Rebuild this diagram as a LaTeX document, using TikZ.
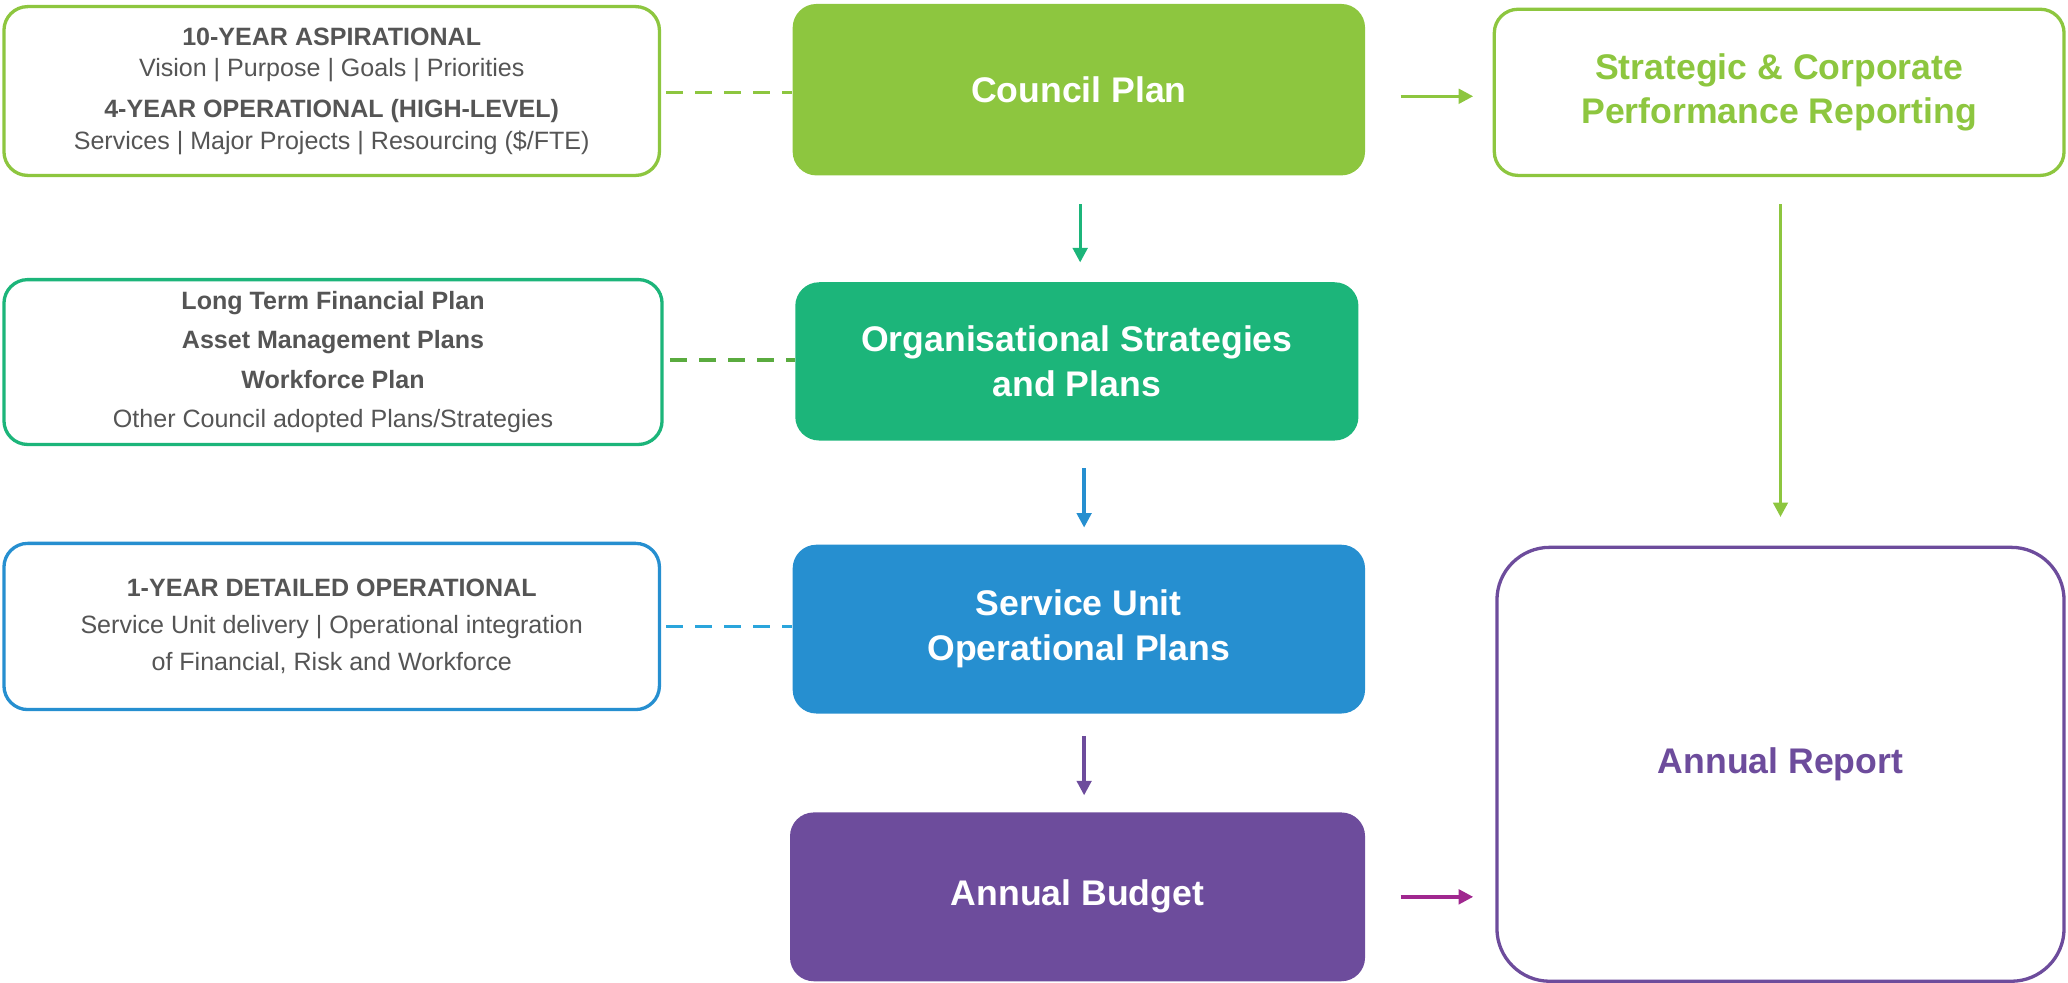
\documentclass[tikz,border=0pt]{standalone}
\usepackage{fontspec}
\setmainfont{Liberation Sans}
\usetikzlibrary{arrows.meta}
\definecolor{cg}{HTML}{8DC63F}
\definecolor{ct}{HTML}{1CB57A}
\definecolor{cb}{HTML}{268FD0}
\definecolor{cp}{HTML}{6D4C9C}
\definecolor{cmag}{HTML}{A0278F}
\definecolor{cdg}{HTML}{5AAB3F}
\definecolor{clb}{HTML}{2AA5DC}
\definecolor{tx}{HTML}{555555}
\begin{document}
\begin{tikzpicture}[x=1pt,y=-1pt,
 side/.style={draw,line width=2.5pt,rounded corners=18pt,fill=white,text=tx,font=\fontsize{19}{27}\selectfont,align=center,inner sep=0pt},
 main/.style={rounded corners=18pt,text=white,font=\fontsize{27}{34}\selectfont\bfseries,align=center,inner sep=0pt},
 dsh/.style={line width=2.5pt,dash pattern=on 13pt off 9pt},
 arr/.style={line width=2.5pt,-{Triangle[length=11pt,width=11pt]}}]
\useasboundingbox (0,0) rectangle (1568,745);
% left boxes
\node[side,draw=cg,minimum width=497pt,minimum height=128pt] (l1) at (251.5,69) {};
\node[text=tx,font=\fontsize{19}{27}\selectfont,align=center] at (251.5,69) {\textbf{10-YEAR ASPIRATIONAL}\\[-3pt] Vision | Purpose | Goals | Priorities\\[4pt] \textbf{4-YEAR OPERATIONAL (HIGH-LEVEL)}\\[-3pt] Services | Major Projects | Resourcing (\$/FTE)};
\node[side,draw=ct,minimum width=499pt,minimum height=125pt] (l2) at (252.5,274.5) {};
\node[text=tx,font=\fontsize{19}{30}\selectfont,align=center] at (252.5,274.5) {\textbf{Long Term Financial Plan}\\ \textbf{Asset Management Plans}\\ \textbf{Workforce Plan}\\ Other Council adopted Plans/Strategies};
\node[side,draw=cb,minimum width=497pt,minimum height=126pt] (l3) at (251.5,475) {};
\node[text=tx,font=\fontsize{19}{28}\selectfont,align=center] at (251.5,475) {\textbf{1-YEAR DETAILED OPERATIONAL}\\ Service Unit delivery | Operational integration\\ of Financial, Risk and Workforce};
% main boxes
\node[main,fill=cg,minimum width=434pt,minimum height=130pt] (cp) at (818,68) {Council Plan};
\node[main,fill=ct,minimum width=427pt,minimum height=120pt] (os) at (816.5,274) {Organisational Strategies\\and Plans};
\node[main,fill=cb,minimum width=434pt,minimum height=128pt] (su) at (818,477) {Service Unit\\Operational Plans};
\node[main,fill=cp,minimum width=436pt,minimum height=128pt] (ab) at (817,680) {Annual Budget};
\node[main,draw=cg,line width=2.5pt,fill=white,text=cg,minimum width=432pt,minimum height=126pt] (sr) at (1349,70) {Strategic \& Corporate\\Performance Reporting};
\node[main,draw=cp,line width=2.5pt,fill=white,text=cp,minimum width=430pt,minimum height=329pt,rounded corners=40pt] (ar) at (1350,579.5) {Annual Report};
% dashed
\draw[dsh,cg] (505,70) -- (cp.west|-0,70);
\draw[dsh,cdg] (508,273) -- (os.west|-0,273);
\draw[dsh,clb] (505,475) -- (su.west|-0,475);
% arrows
\draw[arr,ct] (819,155) -- (819,199);
\draw[arr,cb] (822,355) -- (822,400);
\draw[arr,cp] (822,558) -- (822,603);
\draw[arr,cg] (1062,73) -- (1117,73);
\draw[arr,cg] (1350,155) -- (1350,392);
\draw[arr,cmag] (1062,680) -- (1117,680);
\end{tikzpicture}
\end{document}
